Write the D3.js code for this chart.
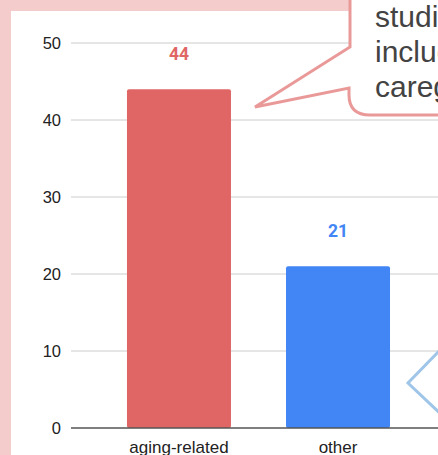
<!DOCTYPE html>
<html>
<head>
<meta charset="utf-8">
<script src="https://cdn.jsdelivr.net/npm/d3@7"></script>
<style>
  html, body { margin: 0; padding: 0; background: #f4cccc; overflow: hidden; }
</style>
</head>
<body>
<div id="chart"></div>
<script>
// chart values
const categories = ['aging-related', 'other'];
const counts = [44, 21];
const barColors = ['#e06666', '#4285f4'];
const yTicks = [0, 10, 20, 30, 40, 50];
const noteLines = ['studies', 'including', 'caregivers'];

const w = 438, h = 455;

const svg = d3.select('#chart')
  .append('svg')
  .attr('width', w)
  .attr('height', h);

// white panel inside the pink frame
svg.append('rect')
  .attr('x', 11).attr('y', 11)
  .attr('width', w).attr('height', h)
  .attr('fill', '#fff');

const y = d3.scaleLinear().domain([0, 50]).range([428, 43]);
const x = d3.scaleBand()
  .domain(categories)
  .range([71, 446])
  .paddingInner(0.346)
  .paddingOuter(0.352);

// gridlines
svg.append('g')
  .selectAll('line')
  .data(yTicks.filter(d => d > 0))
  .enter()
  .append('line')
  .attr('x1', 71).attr('x2', w)
  .attr('y1', d => y(d)).attr('y2', d => y(d))
  .attr('stroke', '#cccccc')
  .attr('stroke-width', 1);

// y tick labels
svg.append('g')
  .selectAll('text')
  .data(yTicks)
  .enter()
  .append('text')
  .attr('x', 61)
  .attr('y', d => y(d))
  .attr('dy', '0.36em')
  .attr('text-anchor', 'end')
  .attr('font-family', 'Liberation Sans, Arial, sans-serif')
  .attr('font-size', 16.5)
  .attr('fill', '#222')
  .text(d => d);

// bars
svg.append('g')
  .selectAll('rect')
  .data(counts)
  .enter()
  .append('rect')
  .attr('x', (d, i) => x(categories[i]))
  .attr('y', d => y(d))
  .attr('width', x.bandwidth())
  .attr('height', d => y(0) - y(d))
  .attr('rx', 2)
  .attr('fill', (d, i) => barColors[i]);

// value labels
svg.append('g')
  .selectAll('text')
  .data(counts)
  .enter()
  .append('text')
  .attr('x', (d, i) => x(categories[i]) + x.bandwidth() / 2)
  .attr('y', d => y(d) - 29)
  .attr('text-anchor', 'middle')
  .attr('font-family', 'Roboto, sans-serif')
  .attr('font-weight', 'bold')
  .attr('font-size', 17.5)
  .attr('fill', (d, i) => barColors[i])
  .text(d => d);

// baseline
svg.append('line')
  .attr('x1', 71).attr('x2', w)
  .attr('y1', y(0)).attr('y2', y(0))
  .attr('stroke', '#555')
  .attr('stroke-width', 1.5);

// category labels
svg.append('g')
  .selectAll('text')
  .data(categories)
  .enter()
  .append('text')
  .attr('x', d => x(d) + x.bandwidth() / 2)
  .attr('y', 453)
  .attr('text-anchor', 'middle')
  .attr('font-family', 'Liberation Sans, Arial, sans-serif')
  .attr('font-size', 17)
  .attr('fill', '#222')
  .text(d => d);

// pink speech bubble (annotation)
svg.append('path')
  .attr('d', 'M350,-10 L350,47 L255,107 L349,88 L349,95 Q349,115 370,115 L460,115 L460,-10 Z')
  .attr('fill', '#fff')
  .attr('stroke', '#ea9999')
  .attr('stroke-width', 3)
  .attr('stroke-linejoin', 'miter');

svg.append('g')
  .selectAll('text')
  .data(noteLines)
  .enter()
  .append('text')
  .attr('x', 375)
  .attr('y', (d, i) => 27 + i * 35)
  .attr('font-family', 'Liberation Sans, Arial, sans-serif')
  .attr('font-size', 30)
  .attr('fill', '#434343')
  .text(d => d);

// blue speech bubble pointer (annotation, box is off screen)
svg.append('path')
  .attr('d', 'M445,345 L408,383 L445,418')
  .attr('fill', 'none')
  .attr('stroke', '#9fc5e8')
  .attr('stroke-width', 3);
</script>
</body>
</html>
